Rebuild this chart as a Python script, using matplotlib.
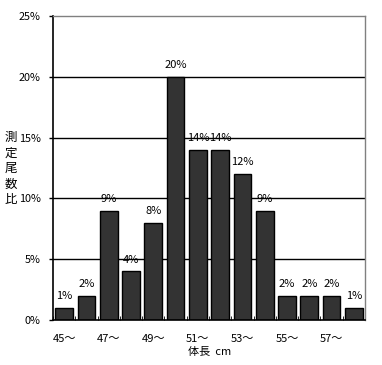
import matplotlib
matplotlib.use("Agg")
import matplotlib.pyplot as plt
import numpy as np

plt.rcParams['font.family'] = ['Noto Sans CJK JP', 'DejaVu Sans']

lengths = [45, 46, 47, 48, 49, 50, 51, 52, 53, 54, 55, 56, 57, 58]
values = [1, 2, 9, 4, 8, 20, 14, 14, 12, 9, 2, 2, 2, 1]
tick_labels = ["45～", "", "47～", "", "49～", "", "51～", "", "53～", "", "55～", "", "57～", ""]
y_ticks = [0, 5, 10, 15, 20, 25]

fig = plt.figure(figsize=(3.82, 3.65), dpi=100)
ax = fig.add_axes([53/382, 1-320/365, (365-53)/382, (320-16)/365])

x = np.arange(len(lengths))
ax.set_axisbelow(True)
for yv in y_ticks[1:-1]:
    ax.axhline(yv, color='black', lw=1, zorder=0)
ax.bar(x, values, width=0.8, color='#333333', edgecolor='black', lw=1, zorder=2)
for xi, v in zip(x, values):
    ax.text(xi, v + 0.55, f"{v}%", ha='center', va='bottom', fontsize=8, zorder=3)

ax.set_xlim(-0.5, len(lengths) - 0.5)
ax.set_ylim(0, 25)
ax.set_yticks(y_ticks)
ax.set_yticklabels([f"{t}%" for t in y_ticks], fontsize=7.8)
ax.set_xticks(x)
ax.set_xticklabels(tick_labels, fontsize=8)
ax.tick_params(axis='x', length=0, pad=10)
ax.set_xticks(np.arange(-0.5, len(lengths)), minor=True)
ax.tick_params(axis='x', which='minor', direction='in', length=3, color='black')
ax.tick_params(axis='y', length=3, width=1, pad=6)

for s in ['left', 'bottom']:
    ax.spines[s].set_color('black')
    ax.spines[s].set_linewidth(1.2)
for s in ['top', 'right']:
    ax.spines[s].set_color('#808080')
    ax.spines[s].set_linewidth(1)

fig.text(210/382, 1-352/365, "体長  cm", ha='center', va='center', fontsize=8)
fig.text(11/382, 1-168.5/365, "測\n定\n尾\n数\n比", ha='center', va='center', fontsize=9, linespacing=1.25)

fig.savefig("out.png", dpi=100)
